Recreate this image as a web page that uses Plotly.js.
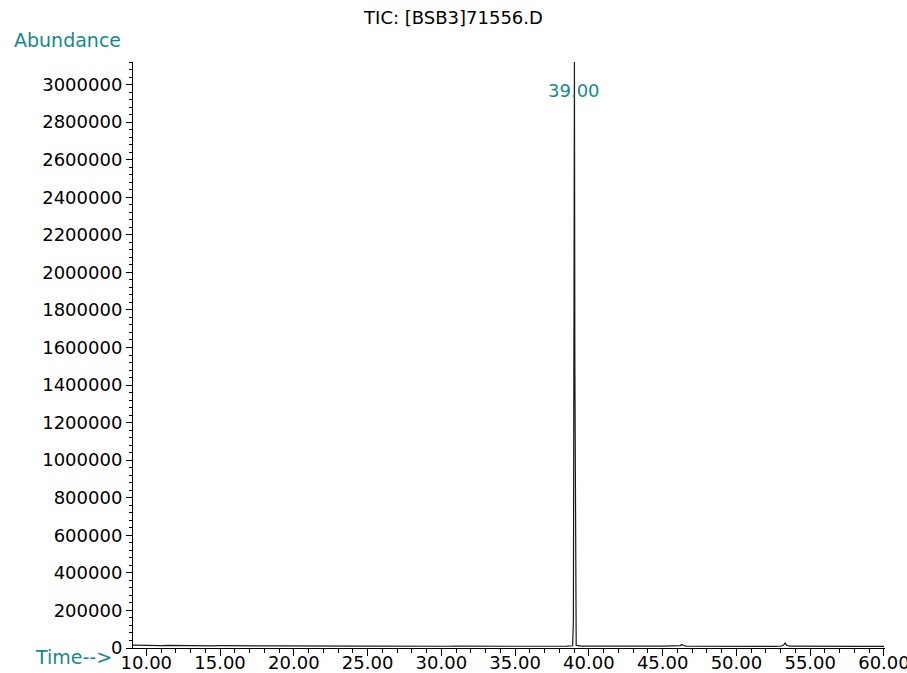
<!DOCTYPE html>
<html>
<head>
<meta charset="utf-8">
<script src="https://cdn.plot.ly/plotly-3.0.1.min.js"></script>
<style>html,body{margin:0;padding:0;background:#fff;}#chart{width:907px;height:673px;}</style>
</head>
<body>
<div id="chart"></div>
<script>
// Retention time (min)
const timeMin = [
  9.1, 9.5, 10.0, 10.5, 11.0, 11.5, 12.0, 12.5, 13.0, 13.5, 14.0, 14.5, 15.0, 15.5, 16.0, 16.5,
  17.0, 17.5, 18.0, 18.5, 19.0, 19.5, 20.0, 20.5, 21.0, 21.5, 22.0, 22.5, 23.0, 23.5, 24.0, 24.5,
  25.0, 25.5, 26.0, 26.5, 27.0, 27.5, 28.0, 28.5, 29.0, 29.5, 30.0, 30.5, 31.0, 31.5, 32.0, 32.5,
  33.0, 33.5, 34.0, 34.5, 35.0, 35.5, 36.0, 36.5, 37.0, 37.5, 38.0, 38.5,
  38.90, 38.95, 38.99, 39.02, 39.05, 39.09, 39.14,
  39.5, 40.0, 40.5, 41.0, 41.5, 42.0, 42.5, 43.0, 43.5, 44.0, 44.5, 45.0, 45.5, 46.0,
  46.2, 46.3, 46.4, 46.6, 47.0, 47.5, 48.0, 48.5, 49.0, 49.5, 50.0, 50.5, 51.0, 51.5, 52.0, 52.5, 53.0,
  53.2, 53.3, 53.4, 53.6, 54.0, 54.5, 55.0, 55.5, 56.0, 56.5, 57.0, 57.5, 58.0, 58.5, 59.0, 59.5, 60.0
];
// Total ion current abundance
const abundance = [
  15000, 14000, 13500, 14200, 13000, 13600, 12800, 13200, 12500, 12000, 12600, 11800, 12200, 11500, 11900, 11200,
  11600, 11000, 11400, 10800, 11100, 10600, 10900, 10400, 10700, 10200, 10500, 10000, 10400, 9900, 10200, 9800,
  10100, 9700, 10000, 9600, 9900, 9500, 9800, 9400, 9700, 9300, 9600, 9300, 9500, 9200, 9500, 9100,
  9400, 9100, 9300, 9000, 9300, 9000, 9200, 9000, 9200, 9100, 9400, 9800,
  12000, 150000, 1600000, 3120000, 1500000, 120000, 14000,
  10500, 10000, 9800, 10100, 9700, 10000, 9600, 9900, 9500, 9800, 9500, 9700, 9400, 9800,
  13000, 19000, 13000, 9800, 9500, 9300, 9600, 9200, 9500, 9100, 9400, 9100, 9300, 9000, 9300, 9000, 9400,
  16000, 26000, 15000, 9600, 9200, 9000, 9200, 8900, 9100, 8800, 9100, 8800, 9000, 8700, 9000, 8700, 8900
];
const peakLabelTime = 39.02;
const peakLabelText = "39.00";
const chartTitle = "TIC: [BSB3]71556.D";
const yLabel = "Abundance";
const xLabel = "Time-->";

const teal = "#17898a";
const fontFam = "DejaVu Sans, Liberation Sans, Arial, sans-serif";

const trace = {
  x: timeMin, y: abundance, type: "scatter", mode: "lines",
  line: {color: "#1a1a1a", width: 1.2}, hoverinfo: "skip"
};

const layout = {
  width: 907, height: 673,
  margin: {l: 133, r: 22, t: 62, b: 25, pad: 0},
  paper_bgcolor: "#fff", plot_bgcolor: "#fff",
  showlegend: false,
  font: {family: fontFam, color: "#000", size: 18},
  title: {text: chartTitle, font: {family: fontFam, size: 18, color: "#000"},
          xref: "container", x: 0.5, xanchor: "center", yref: "container", y: 0.973, yanchor: "middle"},
  xaxis: {
    range: [9.1, 60.07], tick0: 10, dtick: 5, tickformat: ".2f",
    ticks: "outside", ticklen: 7, tickwidth: 1, tickcolor: "#000",
    minor: {dtick: 1, ticklen: 4, tickcolor: "#000", ticks: "outside"},
    showline: true, linecolor: "#000", linewidth: 1,
    showgrid: false, zeroline: false,
    ticklabelstandoff: -9,
    ticklabeloverflow: "allow",
    tickfont: {family: fontFam, size: 18, color: "#000"}
  },
  yaxis: {
    range: [0, 3120000], tick0: 0, dtick: 200000, tickformat: "d",
    ticks: "outside", ticklen: 6, tickwidth: 1, tickcolor: "#000",
    minor: {dtick: 40000, ticklen: 3, tickcolor: "#000", ticks: "outside"},
    showline: true, linecolor: "#000", linewidth: 1,
    showgrid: false, zeroline: false,
    tickfont: {family: fontFam, size: 18, color: "#000"}
  },
  annotations: [
    {text: yLabel, xref: "paper", yref: "paper", x: -0.161, y: 1.0375, xanchor: "left", yanchor: "middle",
     showarrow: false, font: {family: fontFam, size: 19, color: teal}},
    {text: xLabel, xref: "paper", yref: "paper", x: -0.133, y: -0.0154, xanchor: "left", yanchor: "middle",
     showarrow: false, font: {family: fontFam, size: 19, color: teal}},
    {text: peakLabelText, xref: "x", yref: "y", x: peakLabelTime, y: 2970000, xanchor: "center", yanchor: "middle",
     showarrow: false, font: {family: fontFam, size: 18, color: teal}}
  ]
};

Plotly.newPlot("chart", [trace], layout, {displayModeBar: false, staticPlot: true});
</script>
</body>
</html>
